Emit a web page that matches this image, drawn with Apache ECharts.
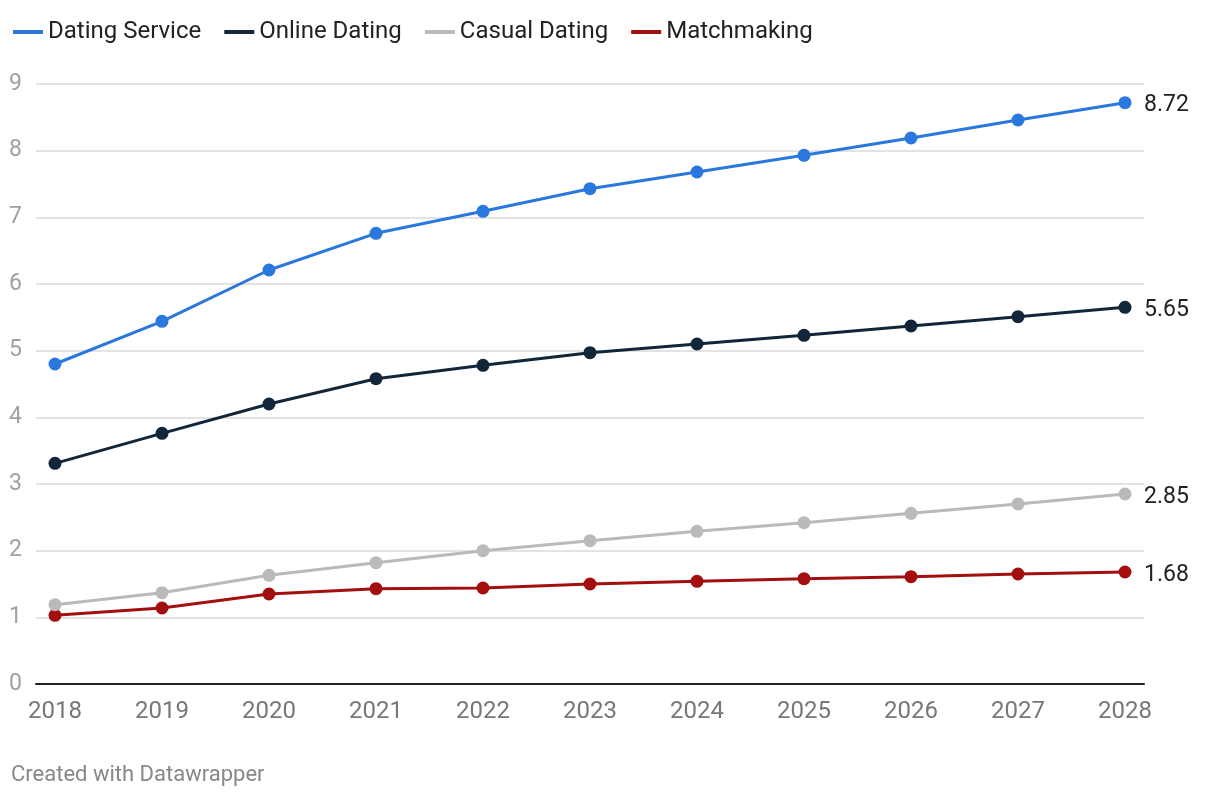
<!DOCTYPE html>
<html><head><meta charset="utf-8">
<script src="https://cdn.jsdelivr.net/npm/echarts@6/dist/echarts.min.js"></script>
<style>html,body{margin:0;padding:0;background:#fff}#c{width:1220px;height:800px}</style>
</head><body><div id="c"></div>
<script>
const years = ['2018','2019','2020','2021','2022','2023','2024','2025','2026','2027','2028'];
const datingService = [4.8, 5.44, 6.21, 6.76, 7.09, 7.43, 7.68, 7.93, 8.19, 8.46, 8.72];
const onlineDating = [3.31, 3.76, 4.2, 4.58, 4.78, 4.97, 5.1, 5.23, 5.37, 5.51, 5.65];
const casualDating = [1.19, 1.37, 1.63, 1.82, 2.0, 2.15, 2.29, 2.42, 2.56, 2.7, 2.85];
const matchmaking = [1.03, 1.14, 1.35, 1.43, 1.44, 1.5, 1.54, 1.58, 1.61, 1.65, 1.68];
const seriesNames = ['Dating Service','Online Dating','Casual Dating','Matchmaking'];
const colors = ['#2a78de','#12263a','#bababa','#a30f0f'];
const yTicks = [0,1,2,3,4,5,6,7,8,9];

const chart = echarts.init(document.getElementById('c'));
const values = [datingService, onlineDating, casualDating, matchmaking];
const font = 'Roboto, "Noto Sans", sans-serif';
chart.setOption({
  animation: false,
  textStyle: {fontFamily: font},
  legend: {
    left: 8, top: 15, itemWidth: 30, itemHeight: 4, itemGap: 23,
    icon: 'rect',
    textStyle: {fontSize: 24, color: '#222', fontFamily: font},
    data: seriesNames.map((n,i)=>({name:n, itemStyle:{color:colors[i]}}))
  },
  graphic: [{type:'text', left: 11, top: 764, style:{text:'Created with Datawrapper', fill:'#888', font:'22px Roboto'}}],
  grid: [
    {left: 36, right: 76, top: 84, bottom: 116},
    {left: 55, right: 95, top: 84, bottom: 116}
  ],
  xAxis: [
    {gridIndex:0, type:'value', min:0, max:1, show:true, axisLabel:{show:false}, axisTick:{show:false}, splitLine:{show:false},
     axisLine:{show:true, onZero:false, lineStyle:{color:'#222', width:2}}},
    {gridIndex:1, type:'category', data: years, boundaryGap:false,
     axisLine:{show:false}, axisTick:{show:false},
     axisLabel:{color:'#777', fontSize:24, margin:16, fontFamily:font}}
  ],
  yAxis: [
    {gridIndex:0, type:'value', min: yTicks[0], max: yTicks[yTicks.length-1], interval:1,
     axisLine:{show:false}, axisTick:{show:false},
     axisLabel:{color:'#a0a0a0', fontSize:23, align:'left', margin:27, fontFamily:font},
     splitLine:{lineStyle:{color:'#e3e3e3', width:2}}},
    {gridIndex:1, type:'value', min:0, max:9, show:false, splitLine:{show:false}}
  ],
  series: values.map((v,i)=>({
    name: seriesNames[i], type:'line', xAxisIndex:1, yAxisIndex:1, data:v,
    symbol:'circle', symbolSize:13, showAllSymbol:true,
    lineStyle:{color:colors[i], width:3},
    itemStyle:{color:colors[i]},
    z: 10-i,
    endLabel:{show:true, formatter: p=>p.value.toFixed(2), color:'#222', fontSize:23, distance:19, offset:[0,3], fontFamily:font}
  }))
});
</script></body></html>
